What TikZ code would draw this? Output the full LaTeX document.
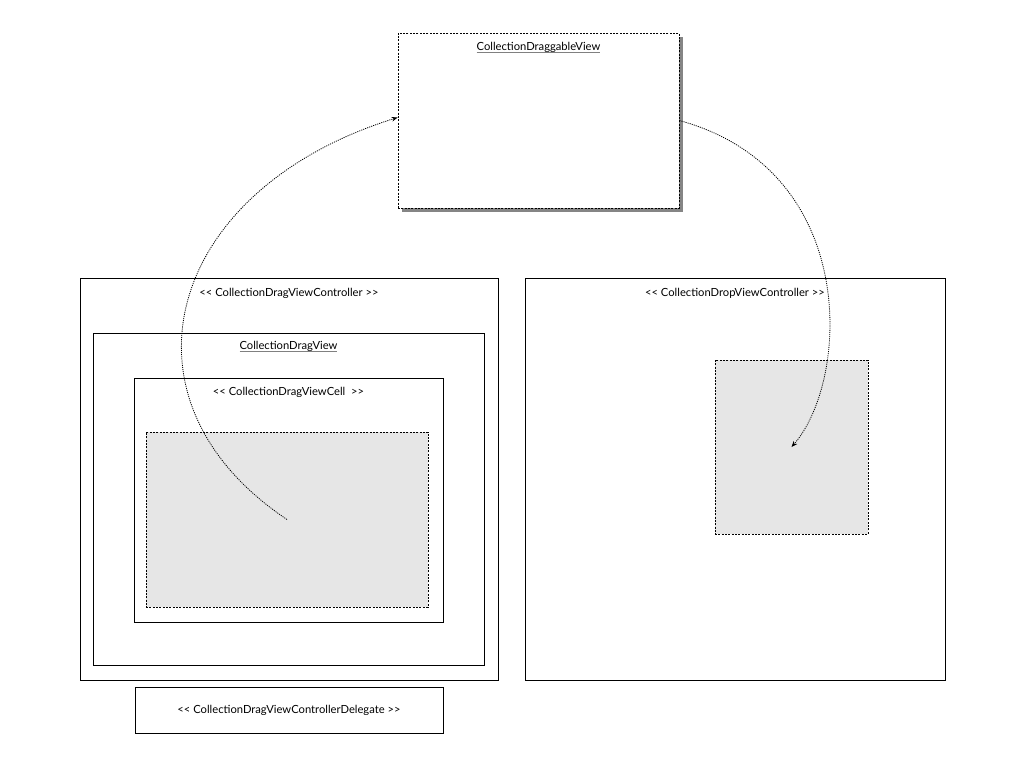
\documentclass[tikz,border=0pt]{standalone}
\usepackage{fontspec}
\setmainfont{Lato}
\usetikzlibrary{arrows.meta}
\usetikzlibrary{positioning}
\usetikzlibrary{fit}
\usetikzlibrary{shadows}
\definecolor{cellgray}{RGB}{230,230,230}
\newsavebox{\ulbox}
\newcommand{\grayline}[1]{\sbox{\ulbox}{#1}%
  \rlap{\color{gray}\rule[-1.3pt]{\wd\ulbox}{0.6pt}}\usebox{\ulbox}}
\newcommand{\stereo}[1]{{<}{<} #1 {>}{>}}
\tikzset{frame/.style = {draw, line width=0.6pt, inner sep=0pt},
         dashframe/.style = {draw, line width=0.6pt, inner sep=0pt,
                             dash pattern=on 1.5pt off 1pt},
         caption/.style = {inner sep=0pt, font=\fontsize{8.4}{10}\selectfont},
         flow/.style = {draw, line width=0.6pt, dash pattern=on 0.8pt off 0.8pt,
                        -{Stealth[length=4.5pt,width=3.5pt]}}}

\begin{document}
\begin{tikzpicture}[x=0.75pt, y=-0.75pt]
      \useasboundingbox (0, 0) rectangle (1024, 768);

      \node [dashframe, fill=white, fit={(398, 33) (679, 208)},
             drop shadow={shadow xshift=3pt, shadow yshift=-3pt, opacity=0.6, fill=black!80}] (draggable) {};
      \node [caption, anchor=base, yshift=-13.5pt] (draggablelabel) at (draggable.north)
            {\grayline{CollectionDraggableView}};

      \node [frame, fit={(80, 278) (498, 680)}] (dragctrl) {};
      \node [caption, anchor=base, yshift=-14.25pt] (dragctrllabel) at (dragctrl.north)
            {\stereo{CollectionDragViewController}};
      \node [frame, fit={(93, 333) (484, 665)}] (dragview) {};
      \node [caption, anchor=base, yshift=-12.75pt] (dragviewlabel) at (dragview.north)
            {\grayline{CollectionDragView}};
      \node [frame, fit={(134, 378) (443, 622)}] (dragcell) {};
      \node [caption, anchor=base, yshift=-13.5pt] (dragcelllabel) at (dragcell.north)
            {\stereo{CollectionDragViewCell~}};
      \node [dashframe, fill=cellgray, fit={(146, 432) (428, 607)}] (dragitem) {};

      \node [frame, fit={(135, 687) (443, 733)}] (delegate) {};
      \node [caption] (delegatelabel) at (delegate.center)
            {\stereo{CollectionDragViewControllerDelegate}};

      \node [frame, fit={(525, 278) (945, 680)}] (dropctrl) {};
      \node [caption, anchor=base, yshift=-14.25pt] (dropctrllabel) at (dropctrl.north)
            {\stereo{CollectionDropViewController}};
      \node [dashframe, fill=cellgray, fit={(715, 360) (868, 534)}] (dropitem) {};

      % drag out of the cell, drop into the target
      \draw [flow] (dragitem.center) .. controls (108, 400) and (165, 190) .. ([yshift=2.25pt]draggable.west);
      \draw [flow] (draggable.east) .. controls (860, 170) and (850, 380) .. (dropitem.center);
\end{tikzpicture}
\end{document}
